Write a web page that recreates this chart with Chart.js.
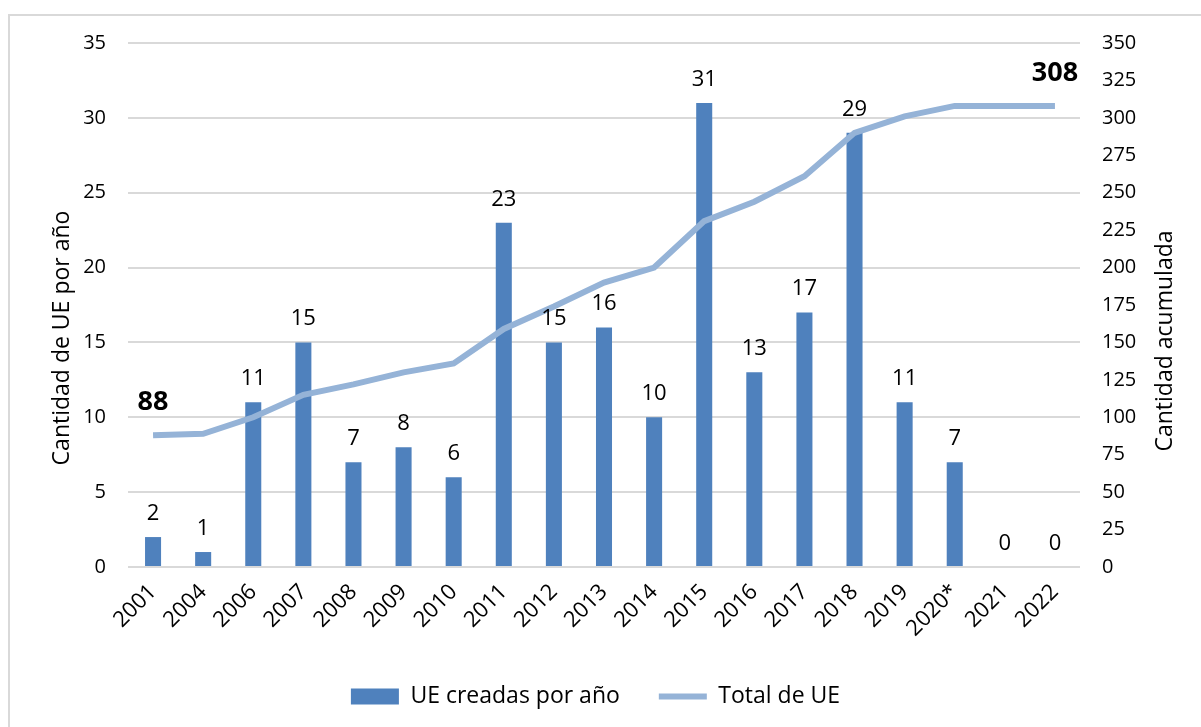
<!DOCTYPE html>
<html>
<head>
<meta charset="utf-8">
<script src="https://cdn.jsdelivr.net/npm/chart.js@4"></script>
<style>
  html, body { margin: 0; padding: 0; background: #fff; overflow: hidden; }
  #frame {
    position: absolute; left: 8px; top: 14px;
    width: 1193px; height: 713px;
    border-left: 2px solid #d9d9d9; border-top: 2px solid #d9d9d9;
  }
  canvas { display: block; }
</style>
</head>
<body>
<div id="frame"><canvas id="myChart" width="1191" height="711"></canvas></div>
<script>
const years = ["2001", "2004", "2006", "2007", "2008", "2009", "2010", "2011", "2012", "2013",
  "2014", "2015", "2016", "2017", "2018", "2019", "2020*", "2021", "2022"];
const createdPerYear = [2, 1, 11, 15, 7, 8, 6, 23, 15, 16, 10, 31, 13, 17, 29, 11, 7, 0, 0];
const totalUE = [88, 89, 100, 115, 122, 130, 136, 159, 174, 190, 200, 231, 244, 261, 290, 301, 308, 308, 308];

const FONT = "'Open Sans', 'Noto Sans', sans-serif";
Chart.defaults.font.family = FONT;
Chart.defaults.color = "#000";

// value labels and both axis titles (drawn by hand so they read bottom to top)
const valueLabels = {
  id: "valueLabels",
  afterDatasetsDraw(chart) {
    const ctx = chart.ctx;
    ctx.save();
    ctx.fillStyle = "#000";
    ctx.textAlign = "center";
    ctx.textBaseline = "alphabetic";

    ctx.font = "22px " + FONT;
    chart.getDatasetMeta(1).data.forEach((el, i) => {
      ctx.fillText(String(createdPerYear[i]), el.x, el.y - 17);
    });

    const line = chart.getDatasetMeta(0).data;
    ctx.font = "bold 27px " + FONT;
    [0, line.length - 1].forEach((i) => {
      ctx.fillText(String(totalUE[i]), line[i].x, line[i].y - 25);
    });

    ctx.textBaseline = "middle";
    ctx.font = "23px " + FONT;
    [["Cantidad de UE por año", 52, 322], ["Cantidad acumulada", 1155, 325]].forEach(([t, x, y]) => {
      ctx.save();
      ctx.translate(x, y);
      ctx.rotate(-Math.PI / 2);
      ctx.fillText(t, 0, 0);
      ctx.restore();
    });
    ctx.restore();
  },
};

const fitY = (w) => (s) => {
  s.width = w;
  s.paddingTop = 0;
  s.paddingBottom = 0;
};

new Chart("myChart", {
  type: "bar",
  data: {
    labels: years,
    datasets: [
      {
        type: "line",
        label: "Total de UE",
        data: totalUE,
        yAxisID: "y1",
        borderColor: "#95b3d7",
        backgroundColor: "#95b3d7",
        borderWidth: 6,
        pointRadius: 0,
        pointStyle: "line",
        tension: 0,
        order: 0,
      },
      {
        label: "UE creadas por año",
        data: createdPerYear,
        yAxisID: "y",
        backgroundColor: "#4f81bd",
        borderWidth: 0,
        pointStyle: "rect",
        barPercentage: 0.32,
        categoryPercentage: 1,
        order: 1,
      },
    ],
  },
  options: {
    responsive: false,
    animation: false,
    layout: {
      padding: { left: 0, top: 27, right: 20, bottom: 9 },
    },
    plugins: {
      legend: {
        position: "bottom",
        reverse: true,
        labels: {
          font: { size: 23 },
          color: "#000",
          usePointStyle: true,
          pointStyleWidth: 48,
          boxHeight: 16,
          padding: 39,
        },
      },
      tooltip: { enabled: false },
    },
    scales: {
      x: {
        grid: { display: false },
        border: { display: false },
        ticks: {
          font: { size: 22 },
          maxRotation: 45,
          minRotation: 45,
          padding: 4,
        },
        afterFit: (s) => { s.height = 79; },
      },
      y: {
        position: "left",
        min: 0,
        max: 35,
        grid: { color: "#d9d9d9", lineWidth: 2, drawTicks: false },
        border: { display: false },
        ticks: { stepSize: 5, font: { size: 20 }, padding: 22 },
        afterFit: fitY(118),
      },
      y1: {
        position: "right",
        min: 0,
        max: 350,
        grid: { display: false, drawTicks: false },
        border: { display: false },
        ticks: { stepSize: 25, font: { size: 20 }, padding: 22 },
        afterFit: fitY(101),
      },
    },
  },
  plugins: [valueLabels],
});
</script>
</body>
</html>
